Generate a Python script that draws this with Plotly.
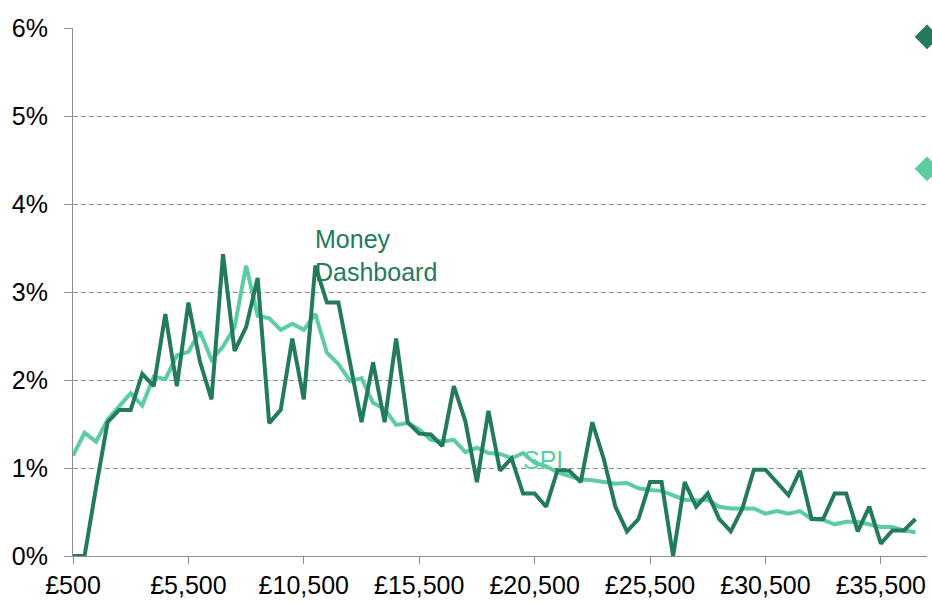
import plotly.graph_objects as go

# Income bands (£), one every £500
income = list(range(500, 37001, 500))
outlier_income = [37500]

money_dashboard = [
    0.00, 0.00, 0.78, 1.52, 1.66, 1.66, 2.07, 1.93, 2.75, 1.93,
    2.88, 2.21, 1.78, 3.43, 2.33, 2.60, 3.16, 1.51, 1.66, 2.47,
    1.78, 3.30, 2.88, 2.88, 2.20, 1.52, 2.20, 1.52, 2.47, 1.52,
    1.39, 1.38, 1.25, 1.93, 1.53, 0.84, 1.65, 0.97, 1.11, 0.71,
    0.71, 0.56, 0.98, 0.97, 0.84, 1.52, 1.10, 0.56, 0.28, 0.42,
    0.84, 0.84, 0.00, 0.84, 0.56, 0.71, 0.42, 0.28, 0.54, 0.98,
    0.98, 0.84, 0.69, 0.97, 0.42, 0.42, 0.71, 0.71, 0.28, 0.56,
    0.14, 0.29, 0.29, 0.42,
]
spi = [
    1.14, 1.40, 1.30, 1.55, 1.70, 1.85, 1.71, 2.04, 2.01, 2.28,
    2.32, 2.55, 2.23, 2.38, 2.60, 3.30, 2.73, 2.70, 2.57, 2.64,
    2.57, 2.75, 2.31, 2.18, 1.99, 2.02, 1.74, 1.67, 1.49, 1.51,
    1.44, 1.32, 1.30, 1.32, 1.18, 1.23, 1.17, 1.16, 1.11, 1.17,
    1.06, 1.02, 0.95, 0.91, 0.87, 0.86, 0.84, 0.82, 0.83, 0.77,
    0.75, 0.74, 0.69, 0.64, 0.63, 0.64, 0.56, 0.54, 0.54, 0.54,
    0.48, 0.51, 0.48, 0.51, 0.42, 0.41, 0.36, 0.39, 0.39, 0.36,
    0.33, 0.33, 0.29, 0.27,
]
money_dashboard_outlier = [5.90]
spi_outlier = [4.40]

DARK = "#237B5B"
LIGHT = "#5CCDA0"
FONT = "Liberation Sans, Arial, sans-serif"

fig = go.Figure()
fig.add_trace(go.Scatter(x=income, y=spi, mode="lines",
                         line=dict(color=LIGHT, width=4), name="SPI"))
fig.add_trace(go.Scatter(x=income, y=money_dashboard, mode="lines",
                         line=dict(color=DARK, width=4), name="Money Dashboard"))
fig.add_trace(go.Scatter(x=outlier_income, y=money_dashboard_outlier, mode="markers",
                         marker=dict(symbol="diamond", size=19, color=DARK),
                         cliponaxis=False, showlegend=False))
fig.add_trace(go.Scatter(x=outlier_income, y=spi_outlier, mode="markers",
                         marker=dict(symbol="diamond", size=19, color=LIGHT),
                         cliponaxis=False, showlegend=False))

fig.add_annotation(x=11000, y=3.42, xanchor="left", yanchor="middle", xshift=-2,
                   text="Money<br>Dashboard", showarrow=False, align="left",
                   font=dict(family=FONT, size=25, color=DARK))
fig.add_annotation(x=20000, y=1.09, xanchor="left", yanchor="middle", xshift=-2,
                   text="SPI", showarrow=False, align="left",
                   font=dict(family=FONT, size=25, color=LIGHT))

fig.update_layout(
    width=932, height=604,
    margin=dict(l=73, r=5, t=28, b=43),
    plot_bgcolor="white", paper_bgcolor="white",
    showlegend=False,
    font=dict(family=FONT, size=25, color="#000000"),
    xaxis=dict(range=[500, 37500], tick0=500, dtick=5000,
               tickprefix="£", tickformat=",d",
               showgrid=False, zeroline=False,
               showline=True, linecolor="#8C8C8C", linewidth=1,
               ticks="outside", ticklen=7, tickcolor="#8C8C8C"),
    yaxis=dict(range=[0, 6], dtick=1, ticksuffix="%",
               showgrid=True, gridcolor="#8C8C8C", gridwidth=1, griddash="5px,3px",
               zeroline=False,
               showline=True, linecolor="#8C8C8C", linewidth=1,
               ticks="outside", ticklen=8, tickcolor="#8C8C8C",
               ticklabelstandoff=11),
)

fig.write_html("out.html", config={"displayModeBar": False},
               post_script="document.body.style.margin='0';")
